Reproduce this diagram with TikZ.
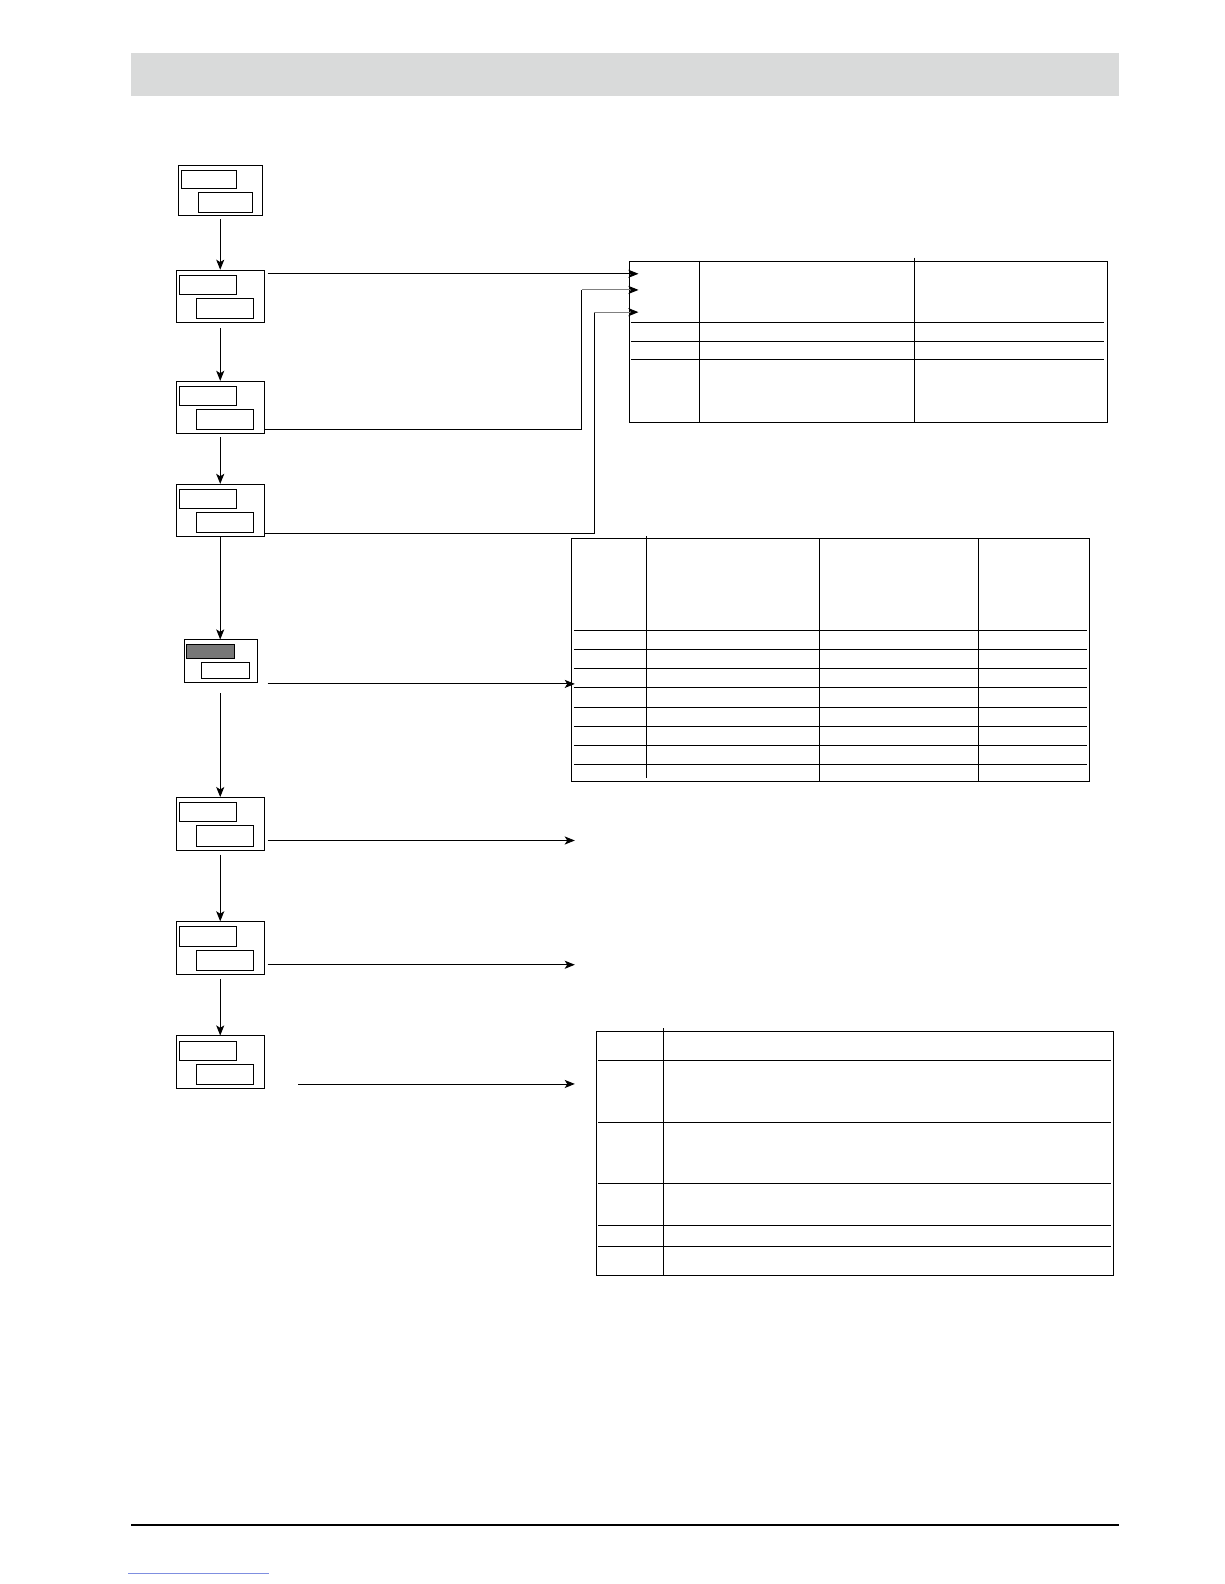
\documentclass[tikz,border=0pt]{standalone}
\usetikzlibrary{arrows.meta}
\definecolor{hdr}{HTML}{D9DADA}
\definecolor{lcdgray}{HTML}{777777}
\definecolor{linkblue}{HTML}{7F8FE0}
\newcommand\mydispbox[3]{%
  \node[obox] (#1) at (#2,#3) {};
  \node[ibox,minimum width=57pt,minimum height=19pt] (#1u) at (#2+3,#3+5) {};
  \node[ibox,minimum width=56pt,minimum height=20pt] (#1l) at (#2+20,#3+28) {};}
\begin{document}
\begin{tikzpicture}[x=1pt,y=-1pt,
  obox/.style={draw,line width=1pt,inner sep=0pt,minimum width=87pt,minimum height=52pt,anchor=north west},
  ibox/.style={draw,line width=1pt,inner sep=0pt,anchor=north west},
  conn/.style={line width=0.9pt},
  arrtip/.style={-{Stealth[length=10pt,width=8pt,inset=2.5pt,color=black]}},
  arr/.style={conn,arrtip},
  tline/.style={line width=1pt}]
\useasboundingbox (0,0) rectangle (1212,1568);
% header band and footer rule
\fill[hdr] (130,52) rectangle (1108,95);
\draw[line width=2pt] (130,1510) -- (1108,1510);
\draw[linkblue,line width=0.6pt] (127,1557) -- (266,1557);
% display boxes
\node[obox,minimum width=83pt,minimum height=50pt] (b1) at (176,163) {};
\node[ibox,minimum width=55pt,minimum height=18pt] (b1u) at (179,168) {};
\node[ibox,minimum width=53pt,minimum height=20pt] (b1l) at (196,190) {};
\mydispbox{b2}{174}{267}
\mydispbox{b3}{174}{377}
\mydispbox{b4}{174}{479}
\node[obox,minimum width=72pt,minimum height=42pt] (b5) at (182,633) {};
\node[ibox,fill=lcdgray,minimum width=48pt,minimum height=14pt] (b5u) at (184,637) {};
\node[ibox,minimum width=47pt,minimum height=16pt] (b5l) at (199,655) {};
\mydispbox{b6}{174}{789}
\mydispbox{b7}{174}{912}
\mydispbox{b8}{174}{1025}
% vertical flow
\draw[arr] ([yshift=-3pt]b1.south) -- (b2.north);
\draw[arr] ([yshift=-5pt]b2.south) -- (b3.north);
\draw[arr] ([yshift=-3pt]b3.south) -- (b4.north);
\draw[arr] (b4.south) -- (b4.south |- b5.north);
\draw[arr] ([yshift=-10pt]b5.south -| b4.south) -- (b6.north);
\draw[arr] ([yshift=-4pt]b6.south) -- (b7.north);
\draw[arr] ([yshift=-4pt]b7.south) -- (b8.north);
% table 1
\node[draw,tline,inner sep=0pt,minimum width=473pt,minimum height=160pt,anchor=north west] (t1) at (623,258) {};
\draw[tline] (692,258) -- (692,418);
\draw[tline] (905,255) -- (905,418);
\foreach \yy in {319,338,356} \draw[tline] (625,\yy) -- (1093,\yy);
% table 2
\node[draw,tline,inner sep=0pt,minimum width=513pt,minimum height=240pt,anchor=north west] (t2) at (565,533) {};
\draw[tline] (640,531) -- (640,770);
\draw[tline] (811,533) -- (811,773);
\draw[tline] (969,533) -- (969,773);
\foreach \yy in {624,643,662,681,700,719,738,757} \draw[tline] (568,\yy) -- (1076,\yy);
% table 3
\node[draw,tline,inner sep=0pt,minimum width=512pt,minimum height=241pt,anchor=north west] (t3) at (590,1021) {};
\draw[tline] (657,1018) -- (657,1262);
\foreach \yy in {1050,1111,1172,1213,1234} \draw[tline] (592,\yy) -- (1100,\yy);
% connector targets
\coordinate (t1a) at (632,271);
\coordinate (t1b) at (632,287);
\coordinate (t1c) at (632,309);
\coordinate (k3) at (576,425);
\coordinate (k4) at (588,528);
\coordinate (t2a) at (569,677);
\coordinate (t6) at (569,832);
\coordinate (t7) at (569,955);
\coordinate (t8) at (569,1073);
% horizontal connectors
\draw[arr] ([xshift=3pt]b2.east |- t1a) -- (t1a);
\draw[conn] (b3.east |- k3) -- (k3) -- (k3 |- t1b);
\draw[conn,gray,arrtip] (k3 |- t1b) -- (t1b);
\draw[conn] (b4.east |- k4) -- (k4) -- (k4 |- t1c);
\draw[conn,gray,arrtip] (k4 |- t1c) -- (t1c);
\draw[arr] ([xshift=10pt]b5.east |- t2a) -- (t2a);
\draw[arr] ([xshift=3pt]b6.east |- t6) -- (t6);
\draw[arr] ([xshift=3pt]b7.east |- t7) -- (t7);
\draw[arr] ([xshift=33pt]b8.east |- t8) -- (t8);
\end{tikzpicture}
\end{document}
